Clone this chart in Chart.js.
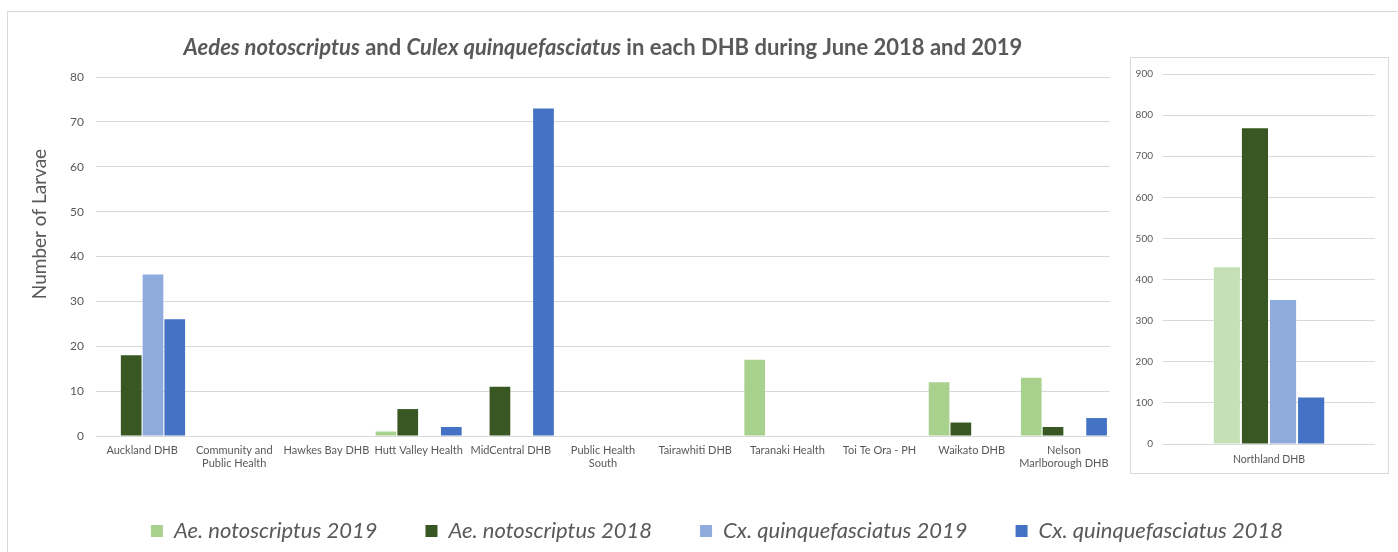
<!DOCTYPE html>
<html>
<head>
<meta charset="utf-8">
<script src="https://cdn.jsdelivr.net/npm/chart.js@4.4.0/dist/chart.umd.min.js"></script>
<style>
    body { margin: 0; background: #fff; width: 1398px; height: 552px; overflow: hidden; position: relative; }
    #frame { position: absolute; left: 7px; top: 11px; width: 1400px; height: 560px; border: 1px solid #d9d9d9; }
    #main { position: absolute; left: 0; top: 0; }
    #insetBox { position: absolute; left: 1130px; top: 57px; width: 257px; height: 415px; border: 1px solid #d9d9d9; background: #fff; }
    #inset { position: absolute; left: 0; top: 0; }
</style>
</head>
<body>
<div id="frame"></div>
<canvas id="main" width="1398" height="552"></canvas>
<div id="insetBox"><canvas id="inset" width="257" height="415"></canvas></div>

<script>
// categories of the main chart
const dhbs = [
    'Auckland DHB',
    ['Community and', 'Public Health'],
    'Hawkes Bay DHB',
    'Hutt Valley Health',
    'MidCentral DHB',
    ['Public Health', 'South'],
    'Tairawhiti DHB',
    'Taranaki Health',
    'Toi Te Ora - PH',
    'Waikato DHB',
    ['Nelson', 'Marlborough DHB']
];
const aeNoto2019 = [0, 0, 0, 1, 0, 0, 0, 17, 0, 12, 13];
const aeNoto2018 = [18, 0, 0, 6, 11, 0, 0, 0, 0, 3, 2];
const cxQuinq2019 = [36, 0, 0, 0, 0, 0, 0, 0, 0, 0, 0];
const cxQuinq2018 = [26, 0, 0, 2, 73, 0, 0, 0, 0, 0, 4];

// Northland is shown on its own scale
const northland = ['Northland DHB'];
const northAe2019 = [430];
const northAe2018 = [768];
const northCx2019 = [350];
const northCx2018 = [113];

const seriesNames = ['Ae. notoscriptus 2019', 'Ae. notoscriptus 2018', 'Cx. quinquefasciatus 2019', 'Cx. quinquefasciatus 2018'];
const yTicksMain = { min: 0, max: 80, step: 10 };
const yTicksInset = { min: 0, max: 900, step: 100 };

const GREY = '#595959';
const GRID = '#d9d9d9';
const FONT = 'Lato';

// title with mixed italic / upright parts + rotated y title
const titlePlugin = {
    id: 'mixedTitle',
    afterDraw(chart) {
        const ctx = chart.ctx;
        const parts = [
            ['italic bold', 'Aedes notoscriptus'],
            ['bold', ' and '],
            ['italic bold', 'Culex quinquefasciatus'],
            ['bold', ' in each DHB during June 2018 and 2019']
        ];
        const size = 22;
        ctx.save();
        ctx.fillStyle = GREY;
        ctx.textBaseline = 'middle';
        let total = 0;
        parts.forEach(p => {
            ctx.font = `${p[0]} ${size}px ${FONT}`;
            total += ctx.measureText(p[1]).width;
        });
        let x = (chart.chartArea.left + chart.chartArea.right) / 2 - total / 2;
        parts.forEach(p => {
            ctx.font = `${p[0]} ${size}px ${FONT}`;
            ctx.fillText(p[1], x, 48);
            x += ctx.measureText(p[1]).width;
        });

        ctx.translate(40, 224);
        ctx.rotate(-Math.PI / 2);
        ctx.textAlign = 'center';
        ctx.font = `19px ${FONT}`;
        ctx.fillText('Number of Larvae', 0, 0);
        ctx.restore();
    }
};

function makeDataset(label, data, color) {
    return {
        label: label,
        data: data,
        backgroundColor: color,
        borderWidth: 0,
        barPercentage: 0.95,
        categoryPercentage: 0.945
    };
}

const mainChart = new Chart(document.getElementById('main').getContext('2d'), {
    type: 'bar',
    data: {
        labels: dhbs,
        datasets: [
            makeDataset(seriesNames[0], aeNoto2019, '#a9d18e'),
            makeDataset(seriesNames[1], aeNoto2018, '#385723'),
            makeDataset(seriesNames[2], cxQuinq2019, '#8faadc'),
            makeDataset(seriesNames[3], cxQuinq2018, '#4472c4')
        ]
    },
    options: {
        responsive: false,
        animation: false,
        layout: { padding: { top: 77, left: 36, right: 0, bottom: 0 } },
        plugins: {
            tooltip: { enabled: false },
            legend: {
                position: 'bottom',
                labels: {
                    boxWidth: 12,
                    boxHeight: 12,
                    padding: 48,
                    color: GREY,
                    font: { family: FONT, size: 22, style: 'italic' }
                }
            }
        },
        scales: {
            x: {
                grid: { display: false, drawTicks: false },
                border: { display: false },
                ticks: { color: GREY, font: { family: FONT, size: 11 }, padding: 8, maxRotation: 0, autoSkip: false },
                afterFit: s => { s.height = 36; }
            },
            y: {
                min: yTicksMain.min,
                max: yTicksMain.max,
                grid: { color: GRID, drawTicks: false },
                border: { display: false },
                ticks: { stepSize: yTicksMain.step, color: GREY, font: { family: FONT, size: 12 }, padding: 12 },
                afterFit: s => { s.width = 60; }
            },
            // empty axis that keeps room for the Northland panel
            side: {
                position: 'right',
                display: true,
                grid: { display: false },
                border: { display: false },
                ticks: { display: false },
                afterFit: s => { s.width = 288; }
            }
        }
    },
    plugins: [titlePlugin]
});

function makeInsetDataset(label, data, color) {
    return {
        label: label,
        data: data,
        backgroundColor: color,
        borderWidth: 0,
        barPercentage: 0.93,
        categoryPercentage: 0.53
    };
}

const insetChart = new Chart(document.getElementById('inset').getContext('2d'), {
    type: 'bar',
    data: {
        labels: northland,
        datasets: [
            makeInsetDataset(seriesNames[0], northAe2019, '#c5e0b4'),
            makeInsetDataset(seriesNames[1], northAe2018, '#385723'),
            makeInsetDataset(seriesNames[2], northCx2019, '#8faadc'),
            makeInsetDataset(seriesNames[3], northCx2018, '#4472c4')
        ]
    },
    options: {
        responsive: false,
        animation: false,
        layout: { padding: { top: 12, left: 0, right: 13, bottom: 0 } },
        plugins: { legend: { display: false }, tooltip: { enabled: false } },
        scales: {
            x: {
                grid: { display: false, drawTicks: false },
                border: { display: false },
                ticks: { color: GREY, font: { family: FONT, size: 10.5 }, padding: 9 },
                afterFit: s => { s.height = 29; }
            },
            y: {
                min: yTicksInset.min,
                max: yTicksInset.max,
                grid: { color: GRID, drawTicks: false },
                border: { display: false },
                ticks: { stepSize: yTicksInset.step, color: GREY, font: { family: FONT, size: 10 }, padding: 10 },
                afterFit: s => { s.width = 32; }
            }
        }
    }
});
</script>
</body>
</html>
